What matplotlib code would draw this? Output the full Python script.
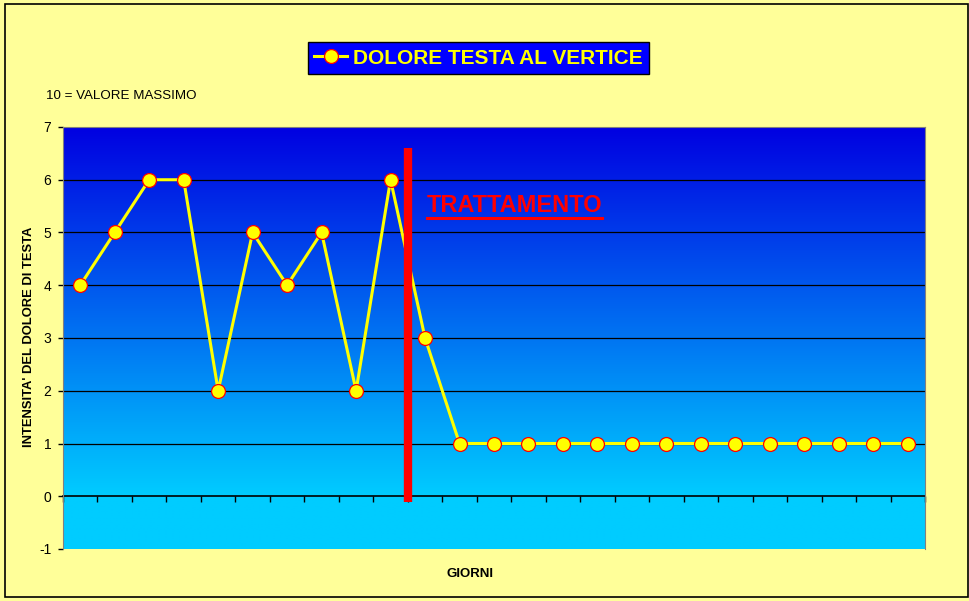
import matplotlib
matplotlib.use("Agg")
import matplotlib.pyplot as plt
import numpy as np
from matplotlib.lines import Line2D
from matplotlib.patches import Rectangle

plt.rcParams["font.family"] = ["Liberation Sans", "DejaVu Sans"]

# data
days = list(range(25))
pain = [4, 5, 6, 6, 2, 5, 4, 5, 2, 6, 3,
        1, 1, 1, 1, 1, 1, 1, 1, 1, 1, 1, 1, 1, 1]
y_ticks = [-1, 0, 1, 2, 3, 4, 5, 6, 7]
grid_vals = [1, 2, 3, 4, 5, 6]
treatment_at = 9.5          # between day 10 and day 11
treatment_span = (-0.1, 6.6)
series_label = "DOLORE TESTA AL VERTICE"

W, H = 970, 601
fig = plt.figure(figsize=(W / 100, H / 100), dpi=100)
fig.patch.set_facecolor("#FFFF99")
fig.patches.append(Rectangle((5 / W, 4 / H), 963 / W, 593 / H, transform=fig.transFigure,
                             fill=False, edgecolor="black", linewidth=1.2, zorder=10))

ax = fig.add_axes([63 / W, 52 / H, 862 / W, 422 / H])
ax.set_xlim(-0.5, 24.5)
ax.set_ylim(-1, 7)

# gradient background: dark blue at top to cyan at zero, flat cyan below
n = 400
yy = np.linspace(7, -1, n)
t = np.clip((7 - yy) / 7, 0, 1)
top = np.array([0, 0, 225]) / 255
bot = np.array([0, 204, 255]) / 255
rgb = top[None, :] * (1 - t[:, None]) + bot[None, :] * t[:, None]
img = np.repeat(rgb[:, None, :], 2, axis=1)
ax.imshow(img, extent=(-0.5, 24.5, -1, 7), aspect="auto", zorder=0, interpolation="bilinear")

for g in grid_vals:
    ax.axhline(g, color="black", linewidth=0.9, zorder=1)

ax.plot(days, pain, color="#FFFF00", linewidth=2.2, marker="o", markersize=10,
        markerfacecolor="#FFFF00", markeredgecolor="red", markeredgewidth=0.9,
        zorder=3, label=series_label)

ax.vlines(treatment_at, *treatment_span, color="#FF0000", linewidth=6, zorder=4)

txt = ax.text(10.05, 5.52, "TRATTAMENTO", color="#FF0000", fontsize=17, fontweight="bold",
              ha="left", va="center", zorder=5)

# axes styling
for side in ["top", "right", "left"]:
    ax.spines[side].set_color("#808080")
    ax.spines[side].set_linewidth(0.8)
ax.spines["bottom"].set_position(("data", 0))
ax.spines["bottom"].set_color("black")
ax.spines["bottom"].set_linewidth(1.2)
ax.spines["bottom"].set_zorder(2)

ax.set_xticks(np.arange(-0.5, 25, 1))
ax.set_xticklabels([])
ax.tick_params(axis="x", direction="out", length=4, width=1, color="black")
ax.set_yticks(y_ticks)
ax.set_yticklabels([str(v) for v in y_ticks], fontsize=10)
ax.tick_params(axis="y", direction="out", length=3.5, width=1, color="black", pad=5)

fig.text(29 / W, 1 - 337 / H, "INTENSITA' DEL DOLORE DI TESTA", rotation=90,
         ha="center", va="center", fontsize=9.4, fontweight="bold")
fig.text(470 / W, 1 - 574 / H, "GIORNI", ha="center", va="center", fontsize=9.5, fontweight="bold")
fig.text(46 / W, 1 - 96 / H, "10 = VALORE MASSIMO", ha="left", va="center", fontsize=9.6)

leg = fig.legend(loc="center", bbox_to_anchor=(478.5 / W, 1 - 58 / H), fontsize=15,
                 frameon=True, fancybox=False, facecolor="#0000FF", edgecolor="black",
                 handlelength=1.6, handletextpad=0.3, borderpad=0.3, framealpha=1)
leg.get_frame().set_linewidth(1)
for t_ in leg.get_texts():
    t_.set_color("#FFFF00")
    t_.set_fontweight("bold")

# underline for TRATTAMENTO
fig.canvas.draw()
bb = txt.get_window_extent(renderer=fig.canvas.get_renderer())
inv = fig.transFigure.inverted()
(x0, y0), (x1, _) = inv.transform([(bb.x0, bb.y0 - 1), (bb.x1, bb.y0)])
fig.lines.append(Line2D([x0, x1], [y0, y0], transform=fig.transFigure,
                        color="#FF0000", linewidth=2.2, zorder=6))

fig.savefig("out.png", dpi=100, facecolor=fig.get_facecolor())
